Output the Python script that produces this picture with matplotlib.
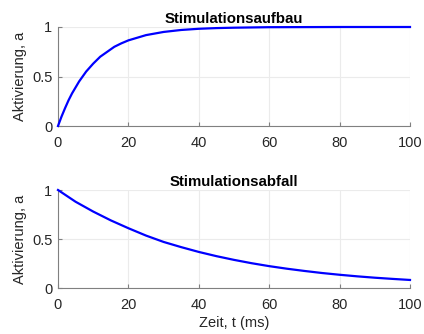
import matplotlib
matplotlib.use("Agg")
import matplotlib.pyplot as plt

plt.rcParams['font.family'] = ['Liberation Sans', 'DejaVu Sans']

# values
t_rise = [0, 1, 2, 3, 4, 5, 6, 7, 8, 9, 10, 12, 14, 16, 18, 20, 25, 30, 35, 40, 45, 50, 60, 70, 80, 90, 100]
a_rise = [0, 0.095, 0.18, 0.26, 0.33, 0.39, 0.45, 0.50, 0.55, 0.59, 0.63, 0.70, 0.75, 0.80, 0.835, 0.865,
          0.918, 0.95, 0.97, 0.982, 0.989, 0.993, 0.998, 0.999, 1.0, 1.0, 1.0]

t_fall = [0, 5, 10, 15, 20, 25, 30, 35, 40, 45, 50, 55, 60, 65, 70, 75, 80, 85, 90, 95, 100]
a_fall = [1.0, 0.88, 0.78, 0.69, 0.61, 0.535, 0.47, 0.417, 0.368, 0.325, 0.287, 0.253, 0.223, 0.197,
          0.174, 0.153, 0.135, 0.119, 0.105, 0.093, 0.082]

x_ticks = [0, 20, 40, 60, 80, 100]
y_ticks = [0, 0.5, 1]
y_ticklabels = ['0', '0.5', '1']

titles = ['Stimulationsaufbau', 'Stimulationsabfall']
ylabel = 'Aktivierung, a'
xlabel = 'Zeit, t (ms)'

fig = plt.figure(figsize=(4.24, 3.34), dpi=100)
ax1 = fig.add_axes([58/424, 1-126/334, 352/424, 99/334])
ax2 = fig.add_axes([58/424, 1-288/334, 352/424, 98/334])

txt = '#262626'
for ax, (t, a), title in zip([ax1, ax2], [(t_rise, a_rise), (t_fall, a_fall)], titles):
    ax.plot(t, a, color='#0000ff', lw=1.6, clip_on=False, zorder=3)
    ax.set_xlim(0, 100)
    ax.set_ylim(0, 1)
    ax.set_xticks(x_ticks)
    ax.set_yticks(y_ticks)
    ax.set_yticklabels(y_ticklabels)
    ax.grid(True, color='#ebebeb', lw=0.8)
    ax.set_axisbelow(True)
    for s in ['top', 'right']:
        ax.spines[s].set_visible(False)
    for s in ['left', 'bottom']:
        ax.spines[s].set_color('#808080')
        ax.spines[s].set_linewidth(0.8)
    ax.tick_params(direction='in', length=3, width=0.8, color='#808080',
                   labelsize=10.5, labelcolor=txt)
    ax.tick_params(axis='x', pad=7)
    ax.tick_params(axis='y', pad=4)
    ax.set_title(title, fontsize=10.8, fontweight='bold', color='black', pad=3)
    ax.set_ylabel(ylabel, fontsize=10.5, color=txt, labelpad=4)

ax2.set_xlabel(xlabel, fontsize=10.5, color=txt, labelpad=3)

fig.savefig('out.png', dpi=100)
